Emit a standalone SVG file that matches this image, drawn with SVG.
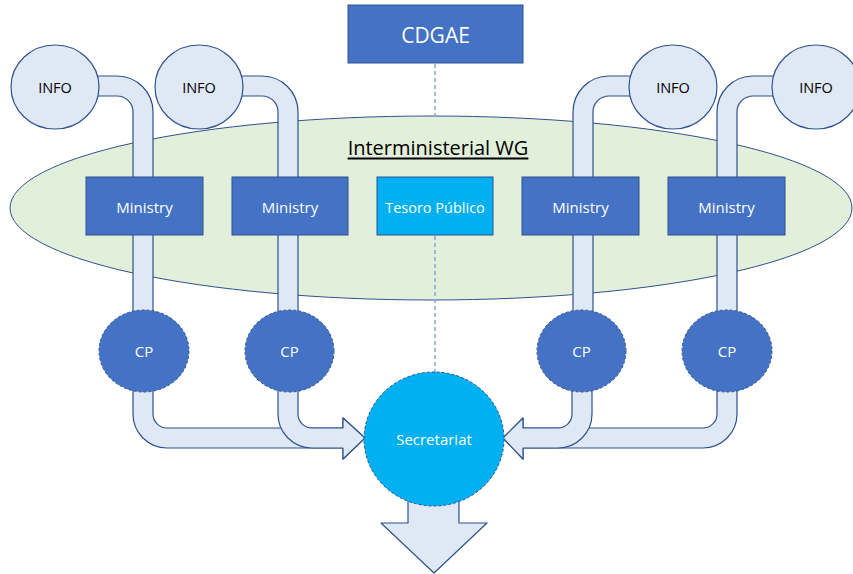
<svg xmlns="http://www.w3.org/2000/svg" width="853" height="574" viewBox="0 0 853 574">
  <style>
    .lbl { font-family: "Open Sans", "Liberation Sans", sans-serif; text-anchor: middle; dominant-baseline: central; }
    .white { fill: #ffffff; }
    .dark { fill: #000000; }
    .box { fill: #4472c4; stroke: #2f528f; stroke-width: 1; }
    .info { fill: #dfe8f5; stroke: #2f528f; stroke-width: 1.2; }
    .cp { fill: #4472c4; stroke: #2f528f; stroke-width: 1; stroke-dasharray: 3 2; }
    .pipe { fill: #dfe8f5; stroke: #2f528f; stroke-width: 1.2; stroke-linejoin: round; }
    .dash { stroke: #8faadc; stroke-width: 1.6; stroke-dasharray: 4 3; fill: none; }
  </style>

  <!-- Working group ellipse -->
  <g id="wg">
    <ellipse cx="431" cy="208" rx="421" ry="92" fill="#e2efda" stroke="#2f528f" stroke-width="1"/>
    <text class="lbl dark" x="438" y="147" font-size="20" text-decoration="underline">Interministerial WG</text>
  </g>

  <g id="connectors">
    <!-- dashed links CDGAE / Tesoro / Secretariat -->
    <line class="dash" x1="435" y1="64" x2="435" y2="117"/>
    <line class="dash" x1="435" y1="236" x2="435" y2="372"/>
    <!-- upper pipes from INFO down to CP -->
    <path class="pipe" d="M70,76 L117,76 A36,36 0 0 1 153,112 L153,340 L133,340 L133,112 A16,16 0 0 0 117,96 L70,96 Z"/>
    <path class="pipe" d="M215,76 L262,76 A36,36 0 0 1 298,112 L298,340 L278,340 L278,112 A16,16 0 0 0 262,96 L215,96 Z"/>
    <path class="pipe" d="M660,76 L609,76 A36,36 0 0 0 573,112 L573,340 L593,340 L593,112 A16,16 0 0 1 609,96 L660,96 Z"/>
    <path class="pipe" d="M800,76 L753,76 A36,36 0 0 0 717,112 L717,340 L737,340 L737,112 A16,16 0 0 1 753,96 L800,96 Z"/>
    <!-- lower pipes from CP into the Secretariat -->
    <path class="pipe" d="M133,360 L133,414 A34,34 0 0 0 167,448 L343,448 L343,459 L365,438 L343,418 L343,428 L167,428 A14,14 0 0 1 153,414 L153,360 Z"/>
    <path class="pipe" d="M278,360 L278,414 A34,34 0 0 0 312,448 L343,448 L343,459 L365,438 L343,418 L343,428 L312,428 A14,14 0 0 1 298,414 L298,360 Z"/>
    <path class="pipe" d="M717,360 L717,414 A14,14 0 0 1 703,428 L523,428 L523,418 L503,438 L523,459 L523,448 L703,448 A34,34 0 0 0 737,414 L737,360 Z"/>
    <path class="pipe" d="M572,360 L572,414 A14,14 0 0 1 558,428 L523,428 L523,418 L503,438 L523,459 L523,448 L558,448 A34,34 0 0 0 592,414 L592,360 Z"/>
    <!-- output arrow below the Secretariat -->
    <path class="pipe" d="M408,480 L408,523 L381,523 L434,573 L487,523 L459,523 L459,480 Z"/>
  </g>

  <g id="cdgae">
    <rect class="box" x="348" y="5" width="175" height="58"/>
    <text class="lbl white" x="435.5" y="35" font-size="21">CDGAE</text>
  </g>

  <g id="ministry1">
    <rect class="box" x="86" y="177" width="117" height="58"/>
    <text class="lbl white" x="144.5" y="207" font-size="15">Ministry</text>
  </g>
  <g id="ministry2">
    <rect class="box" x="232" y="177" width="116" height="58"/>
    <text class="lbl white" x="290" y="207" font-size="15">Ministry</text>
  </g>
  <g id="tesoro">
    <rect x="377" y="177" width="116" height="58" fill="#00b0f0" stroke="#2f528f" stroke-width="1"/>
    <text class="lbl white" x="435" y="207" font-size="14.5">Tesoro Público</text>
  </g>
  <g id="ministry3">
    <rect class="box" x="522" y="177" width="117" height="58"/>
    <text class="lbl white" x="580.5" y="207" font-size="15">Ministry</text>
  </g>
  <g id="ministry4">
    <rect class="box" x="668" y="177" width="117" height="58"/>
    <text class="lbl white" x="726.5" y="207" font-size="15">Ministry</text>
  </g>

  <g id="info1">
    <ellipse class="info" cx="55" cy="87" rx="44" ry="42"/>
    <text class="lbl dark" x="55" y="87" font-size="14.5">INFO</text>
  </g>
  <g id="info2">
    <ellipse class="info" cx="199" cy="87" rx="44" ry="42"/>
    <text class="lbl dark" x="199" y="87" font-size="14.5">INFO</text>
  </g>
  <g id="info3">
    <ellipse class="info" cx="673" cy="87" rx="44" ry="42"/>
    <text class="lbl dark" x="673" y="87" font-size="14.5">INFO</text>
  </g>
  <g id="info4">
    <ellipse class="info" cx="816" cy="87" rx="44" ry="42"/>
    <text class="lbl dark" x="816" y="87" font-size="14.5">INFO</text>
  </g>

  <g id="cp1">
    <ellipse class="cp" cx="144" cy="351" rx="45" ry="41"/>
    <text class="lbl white" x="144" y="351" font-size="15">CP</text>
  </g>
  <g id="cp2">
    <ellipse class="cp" cx="289.5" cy="351" rx="44.5" ry="41"/>
    <text class="lbl white" x="289.5" y="351" font-size="15">CP</text>
  </g>
  <g id="cp3">
    <ellipse class="cp" cx="581.5" cy="351" rx="44.5" ry="41"/>
    <text class="lbl white" x="581.5" y="351" font-size="15">CP</text>
  </g>
  <g id="cp4">
    <ellipse class="cp" cx="727" cy="351" rx="45" ry="41"/>
    <text class="lbl white" x="727" y="351" font-size="15">CP</text>
  </g>

  <g id="secretariat">
    <ellipse cx="434" cy="439" rx="70" ry="67" fill="#00b0f0" stroke="#2f528f" stroke-width="1" stroke-dasharray="3 2"/>
    <text class="lbl white" x="434" y="439" font-size="15">Secretariat</text>
  </g>
</svg>
